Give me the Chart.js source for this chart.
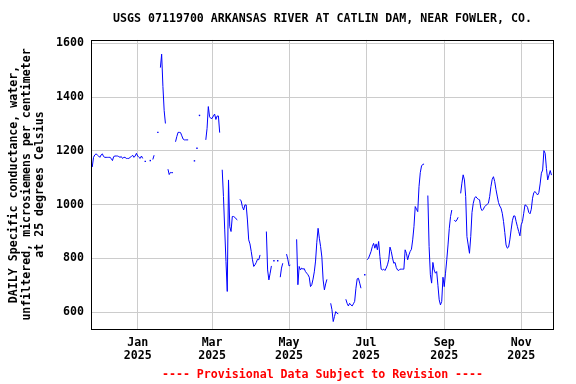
<!DOCTYPE html>
<html>
<head>
<meta charset="utf-8">
<script src="https://cdn.jsdelivr.net/npm/chart.js@4.4.1/dist/chart.umd.min.js"></script>
<style>
html,body{margin:0;padding:0;background:#ffffff;}
canvas{display:block;}
</style>
</head>
<body>
<canvas id="chart" width="576" height="384"></canvas>
<script>
// ---------------- data ----------------
const titleText = 'USGS 07119700 ARKANSAS RIVER AT CATLIN DAM, NEAR FOWLER, CO.';
const yAxisTitle = ['DAILY Specific conductance, water,', 'unfiltered, microsiemens per centimeter', 'at 25 degrees Celsius'];
const footerText = '---- Provisional Data Subject to Revision ----';

// daily values, one per day starting at firstDate (null = no data)
const firstDate = '2024-11-26';
const conductance = [
  1140,1176,1185,1189,1185,1181,1176,1185,1189,1179,
  1176,1176,1176,1176,1176,1172,1164,1179,1181,1181,
  1181,1179,1176,1179,1172,1176,1176,1172,1172,1172,
  1176,1179,1184,1176,1181,1191,1181,1176,1172,1181,
  1172,null,1161,null,null,null,1164,null,1168,1184,
  null,null,1269,null,1510,1560,1440,1350,1302,null,
  1132,1112,1120,1119,1119,null,1234,1253,1269,1269,
  1268,1256,1244,1241,1241,1241,1241,null,null,null,
  null,1163,null,1210,null,1332,null,null,null,null,
  1241,1284,1365,1327,1321,1321,1330,1337,1317,1330,
  1330,1268,null,1130,1030,906,788,677,1092,918,
  900,956,956,953,947,943,null,1020,1014,993,
  980,999,999,943,869,854,826,795,770,776,
  785,797,795,813,null,null,null,null,900,757,
  720,745,772,null,791,null,null,791,null,730,
  764,782,null,null,816,797,772,775,null,null,
  null,null,871,702,770,757,764,760,762,751,
  745,739,730,695,702,723,750,790,860,912,
  875,844,805,720,683,705,722,null,null,633,
  609,565,584,602,596,594,null,null,null,null,
  null,648,633,623,633,627,623,631,640,689,
  724,726,708,689,null,null,739,null,795,801,
  813,826,844,856,838,854,832,863,807,760,
  757,760,755,764,776,795,842,826,801,782,
  785,766,757,755,760,760,760,760,832,819,
  795,813,826,834,869,918,993,983,974,1067,
  1119,1144,1150,1151,null,null,1034,844,739,708,
  785,757,745,751,700,646,627,640,730,695,
  745,795,850,912,956,980,null,943,937,943,
  953,null,1042,1080,1111,1092,1030,881,850,819,
  881,971,1005,1024,1030,1024,1020,1018,987,978,
  983,993,997,1001,1005,1030,1067,1094,1104,1086,
  1057,1032,1008,995,987,968,937,896,850,838,
  842,869,906,940,958,958,937,918,900,884,
  925,937,968,999,997,990,971,966,983,1024,
  1045,1049,1042,1036,1045,1077,1117,1129,1201,1191,
  1135,1092,1110,1127,1110
];

const xTickDates  = ['2025-01-01','2025-03-01','2025-05-01','2025-07-01','2025-09-01','2025-11-01'];
const xTickMonths = ['Jan','Mar','May','Jul','Sep','Nov'];
const xTickYears  = ['2025','2025','2025','2025','2025','2025'];
const xRange = ['2024-11-25','2025-11-27'];
const yTicks = [600, 800, 1000, 1200, 1400, 1600];
const yRange = [537, 1613];

// ---------------- build ----------------
const DAY_MS = 86400000;
const originMs = Date.parse('2025-01-01');
const toDay = s => (Date.parse(s) - originMs) / DAY_MS;
const startDay = toDay(firstDate);
const points = conductance.map((v, i) => ({ x: startDay + i, y: v }));
const tickDays = xTickDates.map(toDay);

const isolated = i => conductance[i] !== null &&
  (i === 0 || conductance[i - 1] === null) &&
  (i === conductance.length - 1 || conductance[i + 1] === null);

const FAMILY = "'DejaVu Sans Mono', 'Liberation Mono', monospace";
const font = (lh) => ({ family: FAMILY, size: 11.6, weight: 'bold', lineHeight: lh });

const frame = {
  id: 'frame',
  afterDatasetsDraw(chart) {
    const a = chart.chartArea, c = chart.ctx;
    c.save();
    c.strokeStyle = '#000000';
    c.lineWidth = 1;
    c.strokeRect(Math.round(a.left) + 0.5, Math.round(a.top) + 0.5,
                 Math.round(a.right - a.left) - 1, Math.round(a.bottom - a.top));
    c.restore();
  }
};

new Chart(document.getElementById('chart').getContext('2d'), {
  type: 'line',
  data: {
    datasets: [{
      data: points,
      borderColor: '#0000ff',
      borderWidth: 1,
      backgroundColor: '#0000ff',
      pointRadius: c => isolated(c.dataIndex) ? 1 : 0,
      pointHoverRadius: 0,
      pointStyle: 'rect',
      pointBorderWidth: 0,
      pointBackgroundColor: '#0000ff',
      spanGaps: false,
      tension: 0,
      fill: false
    }]
  },
  options: {
    responsive: false,
    animation: false,
    devicePixelRatio: 1,
    events: [],
    layout: { padding: { left: 0, right: 22, top: 0, bottom: 2 } },
    plugins: {
      legend: { display: false },
      tooltip: { enabled: false },
      title: {
        display: true, text: titleText, color: '#000000', fullSize: false,
        font: font(1.2), padding: { top: 12, bottom: 14 }
      },
      subtitle: {
        display: true, position: 'bottom', text: footerText, color: '#ff0000', fullSize: false,
        font: font(1.2), padding: { top: 0, bottom: 0 }
      }
    },
    scales: {
      x: {
        type: 'linear',
        min: toDay(xRange[0]),
        max: toDay(xRange[1]),
        border: { display: false },
        grid: { color: '#cccccc', lineWidth: 1, drawTicks: false },
        afterBuildTicks: s => { s.ticks = tickDays.map(v => ({ value: v })); },
        afterFit: s => { s.height = 39; },
        ticks: {
          autoSkip: false, maxRotation: 0, minRotation: 0, padding: 8,
          color: '#000000', font: font(12.5 / 11.6),
          callback: (v) => {
            const i = tickDays.indexOf(v);
            return i >= 0 ? [xTickMonths[i], xTickYears[i]] : '';
          }
        }
      },
      y: {
        type: 'linear',
        min: yRange[0],
        max: yRange[1],
        border: { display: false },
        grid: { color: '#cccccc', lineWidth: 1, drawTicks: false },
        afterBuildTicks: s => { s.ticks = yTicks.map(v => ({ value: v })); },
        afterFit: s => { s.width = 91; },
        ticks: {
          padding: 7, color: '#000000', font: font(1.2),
          callback: v => String(v)
        },
        title: {
          display: true, text: yAxisTitle, color: '#000000',
          font: font(13 / 11.6), padding: { top: 7.5, bottom: 0 }
        }
      }
    }
  },
  plugins: [frame]
});
</script>
</body>
</html>
